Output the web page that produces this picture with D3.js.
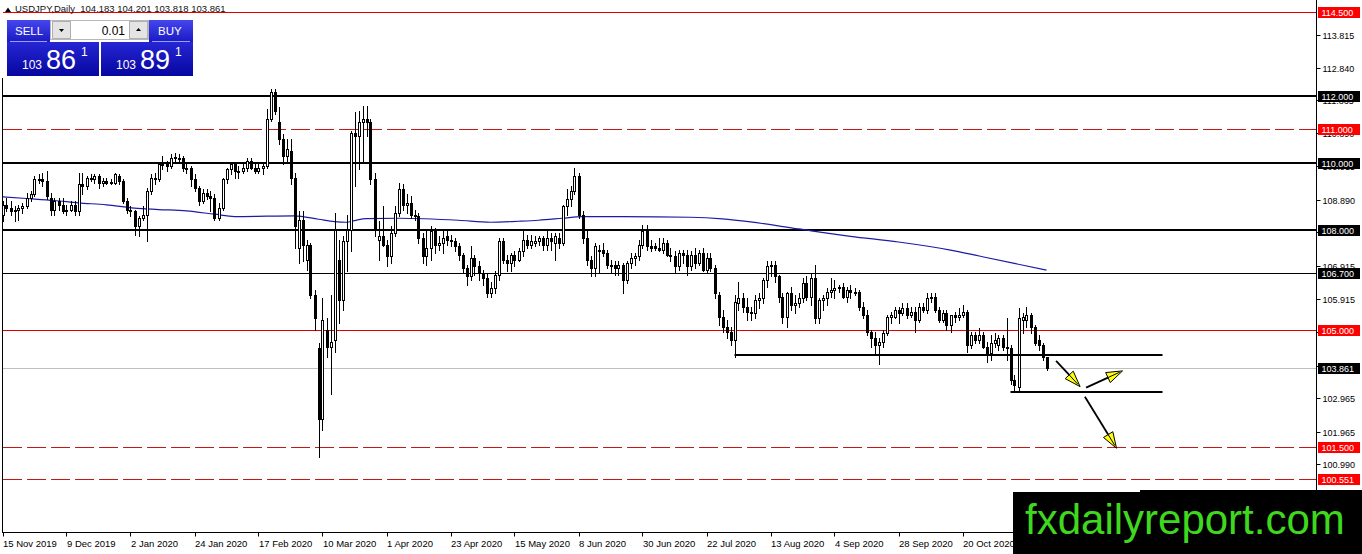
<!DOCTYPE html>
<html><head><meta charset="utf-8">
<script src="https://cdn.jsdelivr.net/npm/d3@7"></script>
<style>
body{margin:0;background:#fff;overflow:hidden}
svg{display:block}
text{font-family:'Liberation Sans',Arial,sans-serif}
</style>
</head><body>
<svg id="c" width="1362" height="554"></svg>
<script>
// ---------------- DATA ----------------
const symbolTitle = "USDJPY,Daily  104.183 104.201 103.818 103.861";
const opens = [
108.45,108.75,108.65,108.55,108.60,108.65,108.70,108.95,109.05,109.50,
109.50,109.45,108.95,108.60,108.85,108.75,108.55,108.60,108.75,108.55,
109.35,109.30,109.55,109.50,109.60,109.40,109.45,109.40,109.40,109.60,
109.45,108.85,108.60,108.55,108.10,108.35,108.45,109.15,109.55,109.50,
109.95,109.95,109.90,110.15,110.15,110.15,109.85,109.85,109.50,109.25,
108.85,109.10,109.00,108.95,108.35,108.65,109.50,109.80,109.95,109.75,
109.75,109.85,110.05,109.85,109.75,109.85,109.90,111.30,112.10,111.20,
110.70,110.20,110.35,109.55,107.45,108.30,107.10,107.55,106.05,104.45,
102.35,105.00,104.50,104.70,107.10,105.90,107.65,108.00,110.90,110.80,
111.20,111.30,111.20,109.50,107.70,107.80,107.55,107.20,107.90,108.50,
109.20,108.75,108.80,108.45,108.40,107.75,107.20,107.45,107.95,107.55,
107.60,107.80,107.70,107.65,107.50,107.25,106.85,106.60,107.15,106.90,
106.70,106.55,106.10,106.25,106.65,107.65,107.10,107.00,107.25,107.10,
107.35,107.70,107.55,107.60,107.65,107.75,107.55,107.75,107.60,107.75,
107.60,108.70,108.90,109.15,109.60,108.45,107.75,107.10,106.85,107.35,
107.40,107.30,106.95,106.95,106.85,106.95,106.50,107.00,107.15,107.20,
107.55,107.95,107.50,107.50,107.45,107.40,107.60,107.25,107.20,106.90,
107.30,107.25,106.90,107.25,107.00,107.30,106.80,107.15,106.85,106.05,
105.40,105.10,104.95,104.70,105.80,105.95,105.70,105.55,105.50,105.90,
105.95,106.50,106.90,106.95,106.60,106.00,105.40,106.10,105.75,105.80,
105.95,106.40,106.00,106.55,105.35,105.90,105.95,106.15,106.20,106.25,
106.30,106.00,106.20,106.15,106.15,105.70,105.45,104.95,104.75,104.55,
104.65,104.90,105.40,105.40,105.60,105.50,105.65,105.45,105.55,105.30,
105.70,105.60,105.95,106.00,105.60,105.30,105.50,105.15,105.45,105.40,
105.45,105.55,104.55,104.85,104.70,104.85,104.50,104.30,104.60,104.55,
104.75,104.50,104.45,103.50,103.30,105.30,105.30,105.45,105.10,104.70,
104.55,104.183];
const highs = [
108.85,108.95,108.85,108.70,108.75,108.80,109.10,109.15,109.60,109.65,
109.70,109.75,109.10,108.95,108.95,108.95,108.75,108.85,108.85,109.70,
109.70,109.60,109.65,109.65,109.65,109.55,109.55,109.50,109.70,109.65,
109.50,108.95,108.70,108.60,108.40,108.70,109.25,109.65,109.70,110.00,
110.20,110.05,110.25,110.30,110.25,110.20,110.00,109.90,109.65,109.30,
109.20,109.20,109.15,109.05,108.80,109.55,109.85,110.00,110.00,109.90,
110.00,110.15,110.15,109.95,109.95,110.00,111.60,112.20,112.20,111.65,
110.85,110.70,110.70,109.70,108.55,108.55,107.70,107.60,106.20,104.60,
105.95,105.35,106.05,108.50,107.70,107.80,108.45,110.95,111.50,111.55,
111.70,111.70,111.30,109.70,108.25,108.70,107.70,108.10,108.70,109.40,
109.35,109.05,109.00,108.60,108.50,107.90,107.95,108.10,108.05,107.80,
107.95,108.00,107.85,107.75,107.60,107.30,106.95,107.50,107.25,107.05,
106.80,106.70,106.45,106.75,107.75,107.75,107.25,107.30,107.35,107.45,
108.00,107.85,107.85,107.80,107.80,107.80,107.95,107.90,107.90,107.90,
108.75,109.20,109.30,109.85,109.70,108.55,107.95,107.20,107.60,107.55,
107.60,107.40,107.10,107.05,107.05,107.00,107.05,107.30,107.30,107.70,
108.15,108.15,107.70,107.60,107.75,107.75,107.70,107.45,107.35,107.40,
107.40,107.40,107.35,107.45,107.40,107.45,107.30,107.30,106.95,106.15,
105.60,105.30,105.10,106.05,106.45,106.10,105.95,105.70,106.05,106.10,
106.55,107.05,107.05,107.05,106.65,106.10,106.15,106.30,106.05,106.10,
106.55,106.60,106.70,106.95,105.95,106.05,106.25,106.55,106.50,106.35,
106.40,106.30,106.35,106.25,106.20,105.85,105.60,105.00,104.95,104.75,
105.00,105.45,105.55,105.70,105.70,105.80,105.80,105.70,105.70,105.80,
105.80,106.10,106.10,106.10,105.70,105.60,105.60,105.45,105.55,105.65,
105.75,105.60,104.95,104.95,105.05,104.95,104.65,104.85,104.90,104.85,
104.85,105.35,104.55,103.65,105.65,105.50,105.70,105.50,105.15,104.85,
104.60,104.201];
const lows = [
108.25,108.55,108.45,108.25,108.30,108.50,108.65,108.85,109.00,109.40,
109.30,108.90,108.45,108.45,108.60,108.50,108.45,108.55,108.45,108.45,
109.05,109.20,109.45,109.40,109.25,109.30,109.35,109.35,109.35,109.35,
108.80,108.50,108.40,107.85,107.80,108.30,107.65,109.05,109.35,109.45,
109.80,109.75,109.85,110.05,110.05,109.75,109.70,109.30,109.15,108.75,
108.80,108.90,108.55,108.30,108.30,108.60,109.40,109.65,109.55,109.55,
109.70,109.75,109.80,109.70,109.70,109.65,109.85,111.25,111.45,110.55,
109.95,110.00,109.35,107.45,107.00,107.05,106.80,105.95,105.00,101.20,
102.00,104.20,103.10,104.35,105.20,105.60,106.75,107.35,109.30,109.80,
110.05,110.80,109.35,107.80,107.10,107.50,106.90,107.00,107.80,108.40,
108.60,108.50,108.35,108.30,107.60,107.00,106.95,107.10,107.30,107.40,
107.30,107.55,107.50,107.35,107.10,106.70,106.35,106.50,106.65,106.50,
106.35,105.98,105.98,106.10,106.50,107.00,106.75,106.75,106.90,107.05,
107.20,107.45,107.45,107.50,107.55,107.40,107.40,107.40,107.10,107.45,
107.55,108.45,108.70,109.05,108.35,107.60,106.95,106.60,106.60,106.70,
107.20,106.85,106.70,106.65,106.65,106.10,106.40,106.85,106.95,107.10,
107.45,107.40,107.35,107.40,107.35,107.30,107.20,107.05,106.70,106.80,
107.00,106.65,106.80,106.85,106.95,106.75,106.70,106.75,105.95,105.15,
104.95,104.75,104.55,104.20,105.60,105.55,105.30,105.30,105.35,105.65,
105.80,106.30,106.60,106.45,105.85,105.20,105.10,105.60,105.50,105.70,
105.85,105.90,105.75,105.20,105.20,105.60,105.75,106.00,105.95,106.15,
105.95,105.85,105.95,106.05,105.60,105.35,104.85,104.50,104.25,104.00,
104.50,104.85,105.20,105.35,105.20,105.45,105.35,105.40,104.95,105.25,
105.55,105.50,105.85,105.55,105.25,105.25,105.00,104.95,105.25,105.30,
105.40,104.35,104.45,104.60,104.60,104.45,104.05,104.10,104.50,104.40,
104.40,104.10,103.40,103.20,103.20,104.90,105.10,104.90,104.55,104.40,
104.10,103.818];
const closes = [
108.75,108.65,108.55,108.60,108.65,108.70,108.95,109.05,109.50,109.50,
109.45,109.00,108.60,108.85,108.75,108.55,108.60,108.75,108.55,109.35,
109.30,109.55,109.50,109.60,109.40,109.45,109.40,109.42,109.65,109.45,
108.85,108.60,108.55,108.10,108.35,108.45,109.15,109.55,109.50,109.95,
109.97,109.90,110.15,110.18,110.12,109.85,109.82,109.50,109.25,108.85,
109.10,109.00,108.95,108.35,108.65,109.50,109.80,109.95,109.75,109.72,
109.85,110.05,109.85,109.75,109.85,109.90,111.30,112.10,111.55,110.70,
110.20,110.40,109.55,108.10,108.30,107.55,107.55,106.05,105.35,102.35,
105.30,104.50,104.65,108.00,105.90,107.65,108.00,110.90,110.80,111.20,
111.30,111.20,109.50,108.00,107.80,107.55,107.20,107.90,108.50,109.20,
108.75,108.80,108.45,108.42,107.75,107.20,107.45,107.95,107.55,107.60,
107.75,107.70,107.65,107.50,107.25,106.85,106.60,107.15,106.90,106.70,
106.55,106.10,106.25,106.65,107.65,107.10,107.00,107.25,107.10,107.35,
107.70,107.55,107.65,107.65,107.75,107.55,107.75,107.65,107.80,107.60,
108.70,108.90,109.15,109.60,108.45,107.75,107.10,106.85,107.50,107.40,
107.30,106.95,106.92,106.85,106.95,106.50,107.00,107.15,107.20,107.55,
107.95,107.50,107.45,107.45,107.40,107.60,107.25,107.20,106.90,107.30,
107.25,106.90,107.25,107.00,107.30,106.80,107.15,106.85,106.10,105.40,
105.10,104.95,104.70,105.85,105.95,105.70,105.55,105.50,105.90,105.95,
106.50,106.90,106.95,106.60,106.00,105.40,106.10,105.75,105.80,105.95,
106.40,106.00,106.55,105.35,105.90,105.95,106.15,106.20,106.25,106.30,
106.00,106.20,106.15,106.13,105.70,105.45,104.95,104.75,104.55,104.65,
104.90,105.40,105.45,105.60,105.50,105.65,105.45,105.55,105.30,105.70,
105.60,105.95,106.00,105.60,105.30,105.50,105.15,105.45,105.40,105.45,
105.55,104.55,104.85,104.70,104.85,104.50,104.30,104.60,104.70,104.75,
104.50,104.45,103.50,103.35,105.35,105.40,105.45,105.10,104.60,104.55,
104.20,103.861];

// 200-day moving average, read at sample bars: [bar index, value]
const maPoints = [[0,108.98],[6,108.93],[13,108.87],[19,108.80],[26,108.74],[33,108.64],[39,108.60],
 [46,108.56],[53,108.46],[58,108.39],[66,108.40],[73,108.41],[79,108.31],[83,108.24],[86,108.22],
 [88,108.27],[91,108.33],[99,108.34],[114,108.28],[122,108.22],[129,108.25],[134,108.28],[140,108.34],
 [145,108.39],[155,108.39],[172,108.37],[180,108.32],[187,108.23],[199,108.02],[212,107.80],
 [224,107.63],[237,107.39],[245,107.19],[261,106.79]];

// date axis labels (every 16 bars)
const dateTickBars = [0,16,32,48,64,80,96,112,128,144,160,176,192,208,224,240];
const dateTickLabels = ["15 Nov 2019","9 Dec 2019","2 Jan 2020","24 Jan 2020","17 Feb 2020","10 Mar 2020",
 "1 Apr 2020","23 Apr 2020","15 May 2020","8 Jun 2020","30 Jun 2020","22 Jul 2020","13 Aug 2020",
 "4 Sep 2020","28 Sep 2020","20 Oct 2020"];
// price axis labels
const priceTicks = ["113.815","112.840","111.865","110.890","109.915","108.890","107.915","106.915",
 "105.915","104.940","103.940","102.965","101.965","100.990"];

// horizontal levels
const redSolidLevels = [114.5, 105.0];
const redDashedLevels = [111.0, 101.5, 100.551];
const blackThickLevels = [112.0, 110.0, 108.0];
const blackThinLevels = [106.7];
const currentPrice = 103.861;
// trend segments drawn on the chart: [start bar, end bar, price]
const supportSegments = [[183, 290, 104.25], [252, 290, 103.15]];
// arrows: [from bar, from price, to bar, to price]
const arrows = [[263.4,104.08,269.4,103.31],[270.9,103.28,280.0,103.78],[270.6,103.01,278.5,101.47]];
// trading panel
const sellPrice = ["103","86","1"], buyPrice = ["103","89","1"], lotSize = "0.01";
const watermark = "fxdailyreport.com";

// ---------------- DRAW ----------------
const svg = d3.select('#c');
const plotR = 1316.5, plotB = 532.5;
const x = d3.scaleLinear().domain([0, 261]).range([2.5, 1046.5]);
const y = d3.scaleLinear().domain([100.551, 114.5]).range([479, 12]);
const py = v => Math.round(y(v)) + 0.5;

const defs = svg.append('defs');
defs.append('clipPath').attr('id','clip').append('rect').attr('x',3).attr('y',0).attr('width',1313).attr('height',532);
function grad(id, c1, c2){
  const g = defs.append('linearGradient').attr('id',id).attr('x1',0).attr('x2',0).attr('y1',0).attr('y2',1);
  g.append('stop').attr('offset','0%').attr('stop-color',c1);
  g.append('stop').attr('offset','100%').attr('stop-color',c2);
}
grad('gBtn','#4646ee','#1a1ac4');
grad('gPrice','#2626d4','#0606a0');

const plot = svg.append('g').attr('clip-path','url(#clip)');

// levels
const lvl = plot.append('g').attr('shape-rendering','crispEdges');
redSolidLevels.forEach(v=>{
  lvl.append('rect').attr('x',3).attr('y',Math.round(y(v))).attr('width',plotR-3).attr('height',1).attr('fill','#e00000');
});
// dashed red lines: dash segments along the width
const dashPattern = d3.range(3, plotR, 24);
redDashedLevels.forEach(v=>{
  lvl.append('g').selectAll('rect').data(dashPattern).join('rect')
    .attr('x',d=>d).attr('y',Math.round(y(v))).attr('width',d=>Math.min(19, plotR-d)).attr('height',1)
    .attr('fill','#c41818');
});
blackThickLevels.forEach(v=>{
  lvl.append('rect').attr('x',3).attr('y',Math.round(y(v))-1).attr('width',plotR-3).attr('height',2).attr('fill','#000');
});
blackThinLevels.forEach(v=>{
  lvl.append('rect').attr('x',3).attr('y',Math.round(y(v))).attr('width',plotR-3).attr('height',1).attr('fill','#000');
});
lvl.append('rect').attr('x',3).attr('y',Math.round(y(currentPrice))).attr('width',plotR-3).attr('height',1).attr('fill','#c0c0c0');

// moving average
plot.append('path').datum(maPoints)
  .attr('d', d3.line().x(d=>x(d[0])).y(d=>y(d[1])).curve(d3.curveMonotoneX))
  .attr('fill','none').attr('stroke','#1c1ca8').attr('stroke-width',1.2);

// candles
const bars = opens.map((o,i)=>({i,o,h:highs[i],l:lows[i],c:closes[i]}));
const cg = plot.append('g');
const bg = cg.selectAll('g').data(bars).join('g');
bg.append('line')
  .attr('x1',d=>Math.round(x(d.i))+0.5).attr('x2',d=>Math.round(x(d.i))+0.5)
  .attr('y1',d=>Math.round(y(d.h))).attr('y2',d=>Math.round(y(d.l))+1)
  .attr('stroke','#000').attr('stroke-width',1);
bg.filter(d=>d.c>=d.o).append('rect')
  .attr('x',d=>Math.round(x(d.i))-0.5)
  .attr('y',d=>Math.round(y(d.c))+0.5)
  .attr('width',2)
  .attr('height',d=>Math.max(1, Math.round(y(d.o))-Math.round(y(d.c))))
  .attr('fill','#fff').attr('stroke','#000').attr('stroke-width',1);
bg.filter(d=>d.c<d.o).append('rect')
  .attr('x',d=>Math.round(x(d.i))-1)
  .attr('y',d=>Math.round(y(d.o)))
  .attr('width',3)
  .attr('height',d=>Math.max(1, Math.round(y(d.c))-Math.round(y(d.o)))+1)
  .attr('fill','#000');

// support segments
plot.selectAll('line.sup').data(supportSegments).join('line').attr('class','sup')
  .attr('x1',d=>x(d[0])).attr('x2',d=>Math.min(plotR, x(d[1])))
  .attr('y1',d=>Math.round(y(d[2]))).attr('y2',d=>Math.round(y(d[2])))
  .attr('stroke','#000').attr('stroke-width',2);

// arrows
arrows.forEach(a=>{
  const x1=x(a[0]), y1=y(a[1]), x2=x(a[2]), y2=y(a[3]);
  const ang=Math.atan2(y2-y1,x2-x1), L=16, hw=5.5;
  const bx=x2-L*Math.cos(ang), by=y2-L*Math.sin(ang);
  plot.append('line').attr('x1',x1).attr('y1',y1).attr('x2',bx).attr('y2',by)
    .attr('stroke','#000').attr('stroke-width',1.8);
  const pts=[[x2,y2],[bx+hw*Math.sin(ang),by-hw*Math.cos(ang)],[bx-hw*Math.sin(ang),by+hw*Math.cos(ang)]];
  plot.append('polygon').attr('points',pts.map(p=>p.join(',')).join(' '))
    .attr('fill','#ffff10').attr('stroke','#000').attr('stroke-width',1);
  plot.append('line').attr('x1',bx).attr('y1',by).attr('x2',x2-3*Math.cos(ang)).attr('y2',y2-3*Math.sin(ang))
    .attr('stroke','#000').attr('stroke-width',1);
});

// frame / axes
svg.append('line').attr('x1',2.5).attr('x2',2.5).attr('y1',78).attr('y2',plotB).attr('stroke','#000');
svg.append('line').attr('x1',plotR).attr('x2',plotR).attr('y1',0).attr('y2',plotB).attr('stroke','#000');
svg.append('line').attr('x1',2).attr('x2',plotR).attr('y1',plotB).attr('y2',plotB).attr('stroke','#000');

// date axis
const dt = svg.append('g');
dt.selectAll('line').data(dateTickBars).join('line')
  .attr('x1',d=>Math.round(x(d))+0.5).attr('x2',d=>Math.round(x(d))+0.5)
  .attr('y1',plotB).attr('y2',plotB+4).attr('stroke','#000');
dt.selectAll('text').data(dateTickBars).join('text')
  .attr('x',d=>x(d)+0.5).attr('y',547).attr('font-size','9.5px').attr('fill','#000')
  .text((d,i)=>dateTickLabels[i]);

// price axis
const pt = svg.append('g');
pt.selectAll('line').data(priceTicks).join('line')
  .attr('x1',plotR).attr('x2',plotR+4).attr('y1',d=>py(+d)).attr('y2',d=>py(+d)).attr('stroke','#000');
pt.selectAll('text').data(priceTicks).join('text')
  .attr('x',1322.5).attr('y',d=>Math.round(y(+d))+3.5).attr('font-size','9px').attr('fill','#000')
  .text(d=>d);

// level labels on the axis
const labelItems = [
  ...redSolidLevels.map(v=>({v,c:'#ff0000'})),
  ...redDashedLevels.map(v=>({v,c:'#ff0000'})),
  ...blackThickLevels.map(v=>({v,c:'#000'})),
  ...blackThinLevels.map(v=>({v,c:'#000'})),
  {v:currentPrice,c:'#000'}
];
const lg = svg.append('g').selectAll('g').data(labelItems).join('g');
lg.append('rect').attr('x',1318).attr('y',d=>Math.round(y(d.v))-5).attr('width',42).attr('height',11)
  .attr('fill',d=>d.c);
lg.append('text').attr('x',1321.5).attr('y',d=>Math.round(y(d.v))+4).attr('font-size','9px').attr('fill','#fff')
  .text(d=>d.v.toFixed(3));

// header
svg.append('path').attr('d','M5,12 L8,7.5 L11,12 Z').attr('fill','#000');
svg.append('text').attr('x',15).attr('y',12).attr('font-size','9.5px').attr('fill','#111')
  .attr('xml:space','preserve').text(symbolTitle);

// trading panel
const pn = svg.append('g');
pn.append('rect').attr('x',0).attr('y',16).attr('width',197).attr('height',62).attr('fill','#fff');
pn.append('rect').attr('x',7).attr('y',20).attr('width',43).attr('height',22).attr('fill','url(#gBtn)');
pn.append('rect').attr('x',149).attr('y',20).attr('width',44).attr('height',22).attr('fill','url(#gBtn)');
pn.append('rect').attr('x',7).attr('y',42).attr('width',92).attr('height',34).attr('fill','url(#gPrice)');
pn.append('rect').attr('x',101).attr('y',42).attr('width',92).attr('height',34).attr('fill','url(#gPrice)');
pn.append('line').attr('x1',10).attr('x2',47).attr('y1',41.5).attr('y2',41.5).attr('stroke','#9c9cff');
pn.append('line').attr('x1',152).attr('x2',190).attr('y1',41.5).attr('y2',41.5).attr('stroke','#9c9cff');
pn.append('rect').attr('x',50.5).attr('y',20.5).attr('width',98).attr('height',19).attr('fill','#fff').attr('stroke','#b8b8b8');
pn.append('rect').attr('x',52.5).attr('y',21.5).attr('width',18).attr('height',17).attr('fill','#e4e4e4').attr('stroke','#b0b0b0');
pn.append('rect').attr('x',129.5).attr('y',21.5).attr('width',18).attr('height',17).attr('fill','#e4e4e4').attr('stroke','#b0b0b0');
pn.append('path').attr('d','M59,29 L64,29 L61.5,32 Z').attr('fill','#000');
pn.append('path').attr('d','M136,31 L141,31 L138.5,28 Z').attr('fill','#000');
pn.append('text').attr('x',125).attr('y',34.5).attr('text-anchor','end').attr('font-size','12px').attr('fill','#000').text(lotSize);
pn.append('text').attr('x',15).attr('y',35).attr('font-size','11.5px').attr('fill','#fff').text('SELL');
pn.append('text').attr('x',158).attr('y',35).attr('font-size','11.5px').attr('fill','#fff').text('BUY');
[[sellPrice,22],[buyPrice,116]].forEach(([p,x0])=>{
  pn.append('text').attr('x',x0).attr('y',69).attr('font-size','12px').attr('fill','#fff').text(p[0]);
  pn.append('text').attr('x',x0+24).attr('y',69).attr('font-size','27px').attr('fill','#fff').text(p[1]);
  pn.append('text').attr('x',x0+59).attr('y',56).attr('font-size','12px').attr('fill','#fff').text(p[2]);
});

// watermark
svg.append('rect').attr('x',1013).attr('y',492).attr('width',349).attr('height',62).attr('fill','#000');
svg.append('rect').attr('x',1140).attr('y',490).attr('width',222).attr('height',4).attr('fill','#000');
svg.append('text').attr('x',1025).attr('y',534).attr('font-size','42px').attr('fill','#3fd81f').text(watermark);
</script>
</body></html>
